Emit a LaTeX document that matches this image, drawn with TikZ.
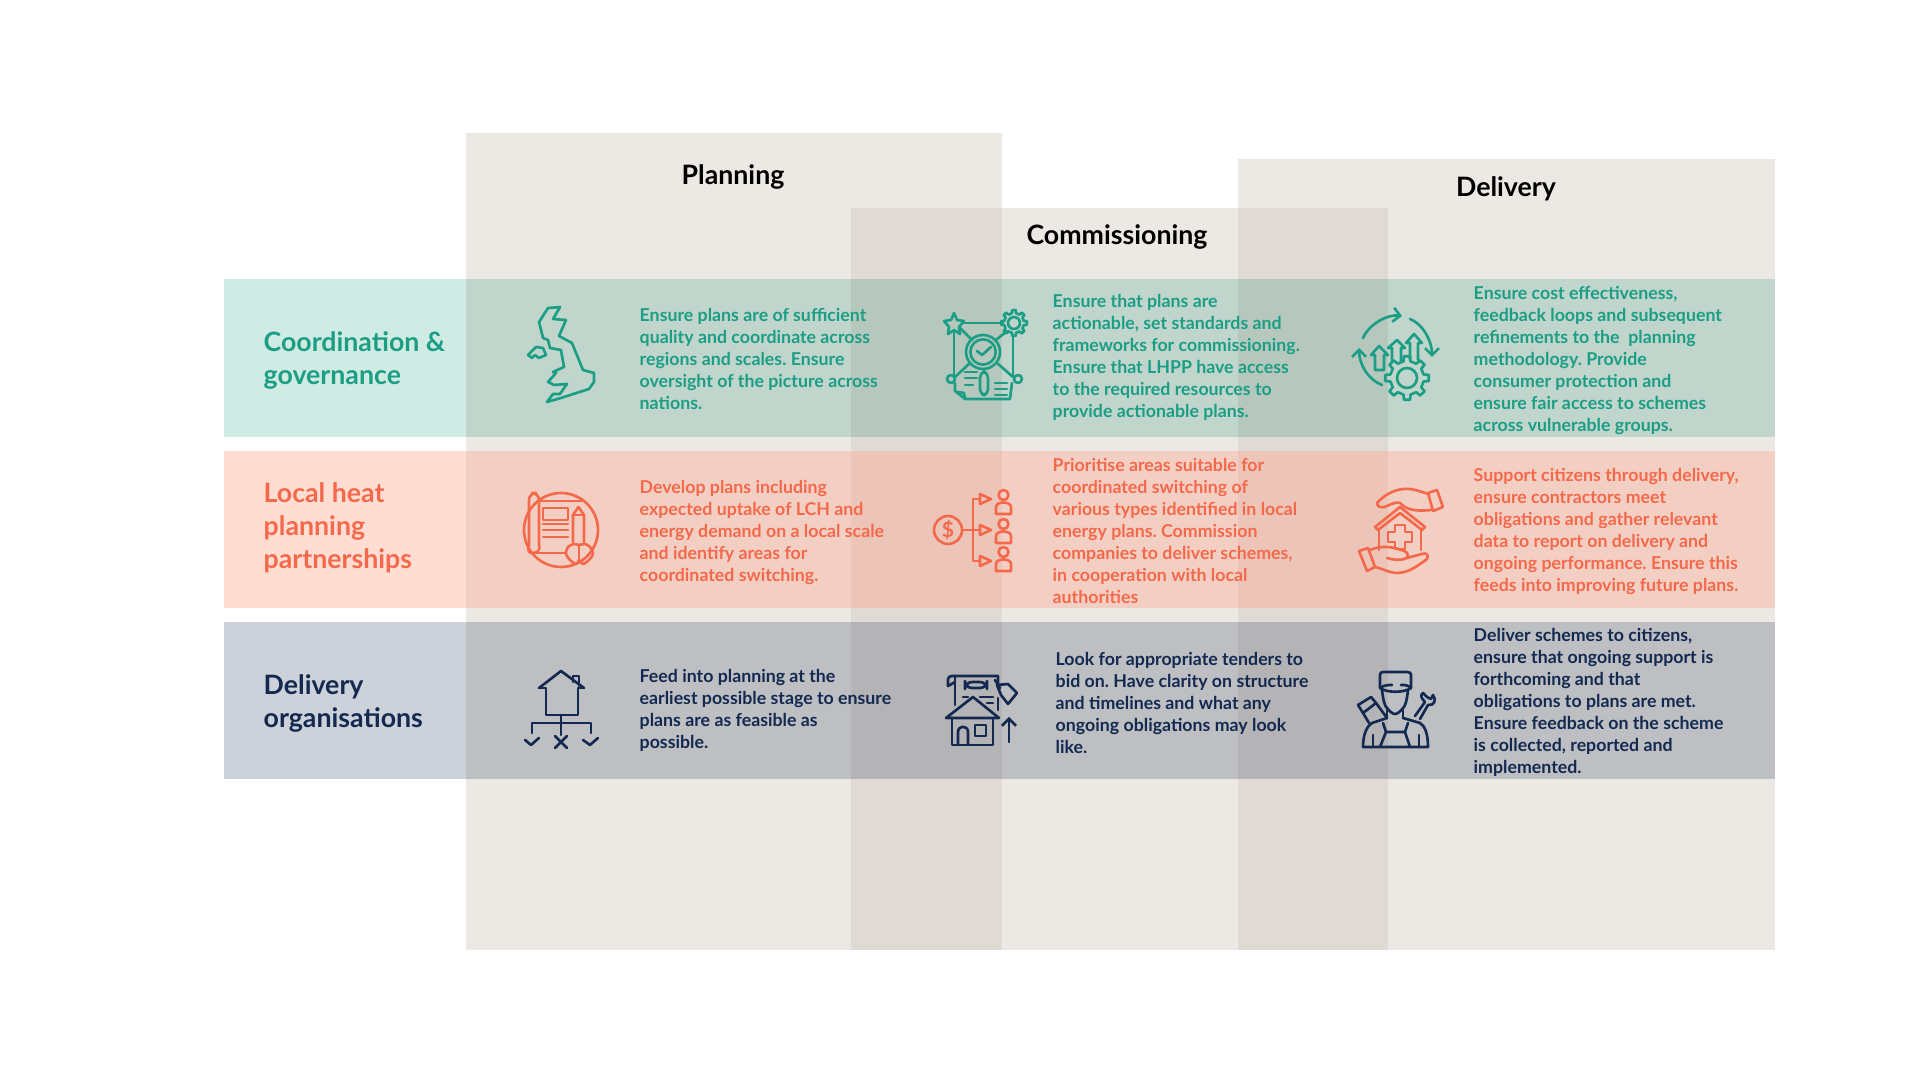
\documentclass[tikz,border=0pt]{standalone}
\usepackage{fontspec}
\setmainfont{Lato}
\usetikzlibrary{arrows.meta}
\definecolor{govteal}{HTML}{1C9E85}
\definecolor{heatcoral}{HTML}{F4694B}
\definecolor{orgnavy}{HTML}{14294F}
\definecolor{govband}{HTML}{D0EBE4}
\definecolor{heatband}{HTML}{FFA388}
\definecolor{orgband}{HTML}{CDD2DA}
\definecolor{stageshade}{HTML}{CCC2B8}
\tikzset{
  stagecol/.style={fill=stageshade, opacity=0.37},
  rowband/.style={blend mode=multiply},
  stagetitle/.style={inner sep=0pt, font=\bfseries\fontsize{7.6}{9}\selectfont},
  rowtitle/.style={anchor=west, align=left, inner sep=0pt, font=\bfseries\fontsize{7.6}{9.4}\selectfont},
  celltext/.style={anchor=west, align=left, inner sep=0pt, font=\bfseries\frenchspacing\fontsize{5.05}{6.26}\selectfont},
  iconat/.style={x=0.01cm, y=-0.01cm},
  iconline/.style={line width=0.75pt, line join=round, line cap=round},
  arrowline/.style={iconline, -{Straight Barb[length=2pt,width=4pt]}}
}
\newcommand{\cogwheel}[2]{
  \foreach \a in {0,45,...,315}
    \draw[iconline] ({\a-12}:#1) -- ({\a-8}:{#1+#2}) -- ({\a+8}:{#1+#2}) -- ({\a+12}:#1) -- ({\a+33}:#1);
}
\begin{document}
\begin{tikzpicture}
\useasboundingbox (0,0) rectangle (19.2,10.8);
% stage columns
\fill[stagecol] (4.66,1.30) rectangle (10.02,9.47);
\fill[stagecol] (8.51,1.30) rectangle (13.88,8.72);
\fill[stagecol] (12.38,1.30) rectangle (17.75,9.21);
% rows
\fill[govband, rowband] (2.24,6.43) rectangle (17.75,8.01);
\fill[heatband, opacity=0.37] (2.24,4.72) rectangle (17.75,6.29);
\fill[orgband, rowband] (2.24,3.01) rectangle (17.75,4.58);
% titles
\node[stagetitle] (planning) at (7.33,9.025) {Planning};
\node[stagetitle] (commissioning) at (11.17,8.425) {Commissioning};
\node[stagetitle] (delivery) at (15.06,8.915) {Delivery};
\node[rowtitle, text=govteal] (govtitle) at (2.63,7.195) {Coordination \&\\governance};
\node[rowtitle, text=heatcoral] (heattitle) at (2.63,5.52) {Local heat\\planning\\partnerships};
\node[rowtitle, text=orgnavy] (orgtitle) at (2.63,3.765) {Delivery\\organisations};
% texts
\node[celltext, text=govteal] (govplan) at (6.39,7.21) {Ensure plans are of sufficient\\quality and coordinate across\\regions and scales. Ensure\\oversight of the picture across\\nations.};
\node[celltext, text=govteal] (govcomm) at (10.52,7.23) {Ensure that plans are\\actionable, set standards and\\frameworks for commissioning.\\Ensure that LHPP have access\\to the required resources to\\provide actionable plans.};
\node[celltext, text=govteal] (govdel) at (14.73,7.19) {Ensure cost effectiveness,\\feedback loops and subsequent\\refinements to the\ \ planning\\methodology. Provide\\consumer protection and\\ensure fair access to schemes\\across vulnerable groups.};
\node[celltext, text=heatcoral] (heatplan) at (6.39,5.475) {Develop plans including\\expected uptake of LCH and\\energy demand on a local scale\\and identify areas for\\coordinated switching.};
\node[celltext, text=heatcoral] (heatcomm) at (10.52,5.49) {Prioritise areas suitable for\\coordinated switching of\\various types identified in local\\energy plans. Commission\\companies to deliver schemes,\\in cooperation with local\\authorities};
\node[celltext, text=heatcoral] (heatdel) at (14.73,5.485) {Support citizens through delivery,\\ensure contractors meet\\obligations and gather relevant\\data to report on delivery and\\ongoing performance. Ensure this\\feeds into improving future plans.};
\node[celltext, text=orgnavy] (orgplan) at (6.39,3.70) {Feed into planning at the\\earliest possible stage to ensure\\plans are as feasible as\\possible.};
\node[celltext, text=orgnavy] (orgcomm) at (10.55,3.77) {Look for appropriate tenders to\\bid on. Have clarity on structure\\and timelines and what any\\ongoing obligations may look\\like.};
\node[celltext, text=orgnavy] (orgdel) at (14.73,3.78) {Deliver schemes to citizens,\\ensure that ongoing support is\\forthcoming and that\\obligations to plans are met.\\Ensure feedback on the scheme\\is collected, reported and\\implemented.};
% map icon
\begin{scope}[shift={(5.61,7.25)}, iconat, govteal]
\draw[iconline] (-13,-47) -- (-1,-48) -- (-8,-36) -- (5,-35) -- (-2,-19) -- (11,-12) -- (22,15) -- (33,18) -- (33,27) -- (28,34) -- (0,43) -- (-14,47) -- (-8,39) -- (-1,39) -- (6,29) -- (-7,30) -- (-13,27) -- (-5,18) -- (-8,17) -- (3,12) -- (0,-5) -- (-11,-7) -- (-13,-15) -- (-18,-17) -- (-22,-33) -- cycle;
\draw[iconline] (-33,0) -- (-25,-8) -- (-18,-7) -- (-15,0) -- (-22,3) -- (-26,0) -- (-29,3) -- cycle;
\end{scope}
% standards icon
\begin{scope}[shift={(9.83,7.24)}, iconat, govteal]
\draw[iconline] (-29,-43) -- (-26,-36) -- (-19,-35) -- (-24,-29) -- (-23,-22) -- (-29,-26) -- (-35,-22) -- (-34,-29) -- (-39,-35) -- (-32,-36) -- cycle;
\begin{scope}[shift={(31,-33)}]
\cogwheel{10}{3}
\draw[iconline] (0,0) circle (6);
\end{scope}
\draw[iconline] (-20,-33) -- (20,-33);
\draw[iconline] (-29,-24) -- (-29,21);
\draw[iconline] (30,-21) -- (30,21);
\draw[iconline] (-23,-28) -- (-11,-16);
\draw[iconline] (24,-25) -- (13,-16);
\draw[iconline] (0,-4) circle (17);
\draw[iconline] (0,-4) circle (12.7);
\draw[iconline] (-6,-5) -- (-1,-1) -- (8,-9);
\draw[iconline, rounded corners=1.5pt] (-3,16) rectangle (5,39);
\draw[iconline] (1,13) -- (1,16);
\draw[iconline] (-32,23) circle (4);
\draw[iconline] (35,23) circle (4);
\draw[iconline] (-28,21) -- (-13,7);
\draw[iconline] (30,21) -- (14,7);
\draw[iconline] (-28,27) -- (-28,35) -- (-18,43) -- (27,43) -- (29,27);
\draw[iconline] (-25,36) -- (-19,37) -- (-18,43);
\draw[iconline] (-18,16) -- (-6,16);
\draw[iconline] (-18,22) -- (-6,22);
\draw[iconline] (-18,29) -- (-10,29);
\draw[iconline] (12,27) -- (24,27);
\draw[iconline] (12,33) -- (24,33);
\draw[iconline] (12,39) -- (24,39);
\end{scope}
% improve icon
\begin{scope}[shift={(13.96,7.25)}, iconat, govteal]
\begin{scope}[shift={(11,23)}]
\cogwheel{17}{5}
\draw[iconline] (0,0) circle (10);
\end{scope}
\draw[arrowline] (-33,-17) .. controls (-27,-31) and (-8,-41) .. (6,-39);
\draw[arrowline] (14,-36) .. controls (27,-31) and (36,-14) .. (36,2);
\draw[arrowline] (-14,30) .. controls (-28,25) and (-37,9) .. (-37,-7);
\draw[iconline] (-21,15) -- (-21,0) -- (-25,0) -- (-17,-9) -- (-8,0) -- (-12,0) -- (-12,15) -- cycle;
\draw[iconline] (-4,7) -- (-4,-7) -- (-8,-7) -- (1,-15) -- (9,-7) -- (5,-7) -- (5,7);
\draw[iconline] (14,5) -- (14,-12) -- (10,-12) -- (18,-21) -- (26,-12) -- (22,-12) -- (22,5);
\end{scope}
% plan icon
\begin{scope}[shift={(5.61,5.50)}, iconat, heatcoral]
\draw[iconline] (0,0) circle (37);
\draw[iconline, rounded corners=2pt] (-32,15) -- (-32,-37) -- (-22,-37) -- (-22,15);
\draw[iconline] (-32,15) .. controls (-34,21) and (-32,24) .. (-27,23) .. controls (-22,22) and (-21,19) .. (-22,15);
\draw[iconline] (-27,23) -- (5,23);
\draw[iconline] (-22,-29) -- (22,-29);
\draw[iconline] (-18,-22) rectangle (7,-10);
\draw[iconline] (-18,-6) -- (7,-6);
\draw[iconline] (-18,0) -- (7,0);
\draw[iconline] (-18,7) -- (7,7);
\draw[iconline] (12,12) -- (12,-15) -- (17.5,-23) -- (23,-15) -- (23,12);
\draw[iconline] (12,-15) -- (23,-15);
\draw[iconline] plot[smooth] coordinates {(18,30) (15,34) (9,30) (5,24) (7,17) (13,14) (18,15) (24,14) (29,17) (32,24) (28,30) (22,34) (18,30)};
\draw[iconline] (18,15) -- (18,30);
\end{scope}
% funding icon
\begin{scope}[shift={(9.73,5.50)}, iconat, heatcoral]
\draw[iconline] (-25,0) circle (14);
\node[text=heatcoral, inner sep=0pt, font=\bfseries\fontsize{6}{7}\selectfont] (dollar) at (-25,0) {\$};
\draw[iconline] (-11,0) -- (7,0);
\draw[iconline] (7,-31) -- (0,-31) -- (0,31) -- (7,31);
\foreach \p in {-31,0,31}
  \draw[iconline] (7,\p-5) -- (18,\p) -- (7,\p+5) -- cycle;
\foreach \q in {-40,-11,17} {
  \draw[iconline] (30.5,\q+5) circle (5);
  \draw[iconline] (23,\q+24) -- (23,\q+17) .. controls (23,\q+11) and (38,\q+11) .. (38,\q+17) -- (38,\q+24) -- cycle;
}
\end{scope}
% care icon
\begin{scope}[shift={(14.01,5.50)}, iconat, heatcoral]
\draw[iconline] (28,-36) .. controls (20,-38) and (12,-42) .. (2,-41) .. controls (-8,-40) and (-18,-34) .. (-24,-27) .. controls (-24,-22) and (-18,-22) .. (-14,-24) .. controls (-8,-27) and (-4,-28) .. (-1,-27) .. controls (4,-22) and (10,-18) .. (30,-20);
\draw[iconline] (27,-37) -- (36,-40) -- (42,-23) -- (32,-19) -- cycle;
\draw[iconline] (-23,0) -- (-26,-3) -- (-1,-23) -- (24,-3) -- (21,0) -- (-1,-17) -- cycle;
\draw[iconline] (-22,0) -- (-22,20);
\draw[iconline] (20,0) -- (20,20);
\draw[iconline] (-6,-5) -- (4,-5) -- (4,2) -- (11,2) -- (11,12) -- (4,12) -- (4,19) -- (-6,19) -- (-6,12) -- (-13,12) -- (-13,2) -- (-6,2) -- cycle;
\draw[iconline] (-31,20) .. controls (-22,16) and (-10,16) .. (0,20) .. controls (6,21) and (8,24) .. (6,28) .. controls (0,31) and (-8,30) .. (-14,28);
\draw[iconline] (6,28) -- (21,24) .. controls (26,22) and (28,26) .. (26,29) .. controls (18,35) and (8,43) .. (-4,43) .. controls (-12,43) and (-20,38) .. (-26,37);
\draw[iconline] (-42,21) -- (-33,18) -- (-26,37) -- (-34,41) -- cycle;
\end{scope}
% choice icon
\begin{scope}[shift={(5.61,3.70)}, iconat, orgnavy]
\draw[iconline] (-22,-22) -- (0,-39) -- (23,-22);
\draw[iconline] (-22,-22) -- (-15,-22) -- (-15,5) -- (17,5) -- (17,-22) -- (23,-22);
\draw[iconline] (12,-28) -- (12,-34) -- (18,-34) -- (18,-24);
\draw[iconline] (0,5) -- (0,25);
\draw[iconline] (-29,23) -- (-29,13) -- (30,13) -- (30,23);
\draw[iconline] (-36,30) -- (-30,35) -- (-22,28);
\draw[iconline] (-6,26) -- (6,38);
\draw[iconline] (6,26) -- (-6,38);
\draw[iconline] (22,30) -- (29,35) -- (37,28);
\end{scope}
% tender icon
\begin{scope}[shift={(9.80,3.70)}, iconat, orgnavy]
\draw[iconline] (-34,8) -- (-7,-13) -- (19,8) -- cycle;
\draw[iconline] (-28,8) -- (-28,35) -- (13,35) -- (13,8);
\draw[iconline] (-22,35) -- (-22,22) .. controls (-22,15) and (-12,15) .. (-12,22) -- (-12,35);
\draw[iconline] (-5,15) rectangle (6,26);
\draw[arrowline] (29,32) -- (29,7);
\draw[iconline] (-25,-5) -- (-25,-34);
\draw[iconline] (-32,-24) -- (-32,-31) .. controls (-32,-33) and (-30,-34) .. (-28,-34) -- (18,-34) -- (18,-27);
\draw[iconline] (-32,-24) -- (-25,-28);
\draw[iconline] (18,-12) -- (18,0);
\draw[iconline, rounded corners=2pt] (-15,-28) rectangle (7,-22);
\draw[iconline] (-17,-13) -- (-12,-13);
\draw[iconline] (0,-13) -- (13,-13);
\draw[iconline] (7,-7) -- (13,-7);
\draw[iconline] (17,-25) -- (28,-26) -- (37,-17) -- (28,-6) -- (21,-15) -- cycle;
\draw[iconline] (15,-30) -- (20,-22);
\end{scope}
% worker icon
\begin{scope}[shift={(13.95,3.70)}, iconat, orgnavy]
\draw[iconline] (-15,-22) -- (-15,-35) .. controls (-15,-37) and (-14,-38) .. (-12,-38) -- (12,-38) .. controls (15,-38) and (16,-37) .. (16,-35) -- (16,-22);
\draw[iconline] (-15,-22) .. controls (-11,-25) and (-7,-25) .. (-3,-25);
\draw[iconline] (6,-25) .. controls (10,-25) and (13,-25) .. (16,-22);
\draw[iconline] (-15,-22) .. controls (-8,-17) and (9,-17) .. (16,-22);
\draw[iconline] (-13,-20) .. controls (-12,-10) and (-10,-3) .. (-8,-2) .. controls (-5,2) and (-2,4) .. (0,4) .. controls (2,4) and (5,2) .. (8,-2) .. controls (10,-3) and (12,-10) .. (13,-20);
\draw[iconline] (-8,0) -- (-8,8);
\draw[iconline] (8,0) -- (8,8);
\draw[iconline] (-8,8) -- (-23,13) .. controls (-28,16) and (-32,24) .. (-32,37) -- (33,37) .. controls (33,24) and (30,16) .. (25,13) -- (8,8);
\draw[iconline] (-12,13) -- (-9,22) -- (10,22) -- (13,13);
\draw[iconline] (-9,22) -- (-15,37);
\draw[iconline] (10,22) -- (15,37);
\draw[iconline] (-22,25) -- (-22,37);
\draw[iconline] (24,25) -- (24,37);
\draw[iconline] (-37,-5) -- (-24,-13) -- (-19,-7) -- (-8,8);
\draw[iconline] (-37,-5) -- (-32,3) -- (-19,-7);
\draw[iconline] (-32,3) -- (-26,13);
\draw[iconline] (20,6) -- (30,-8);
\draw[iconline] (25,9) -- (33,-5);
\draw[iconline] (30,-8) .. controls (26,-12) and (25,-15) .. (28,-17) -- (32,-13) -- (36,-11) -- (38,-15) .. controls (42,-10) and (39,-4) .. (33,-5);
\end{scope}
\end{tikzpicture}
\end{document}
